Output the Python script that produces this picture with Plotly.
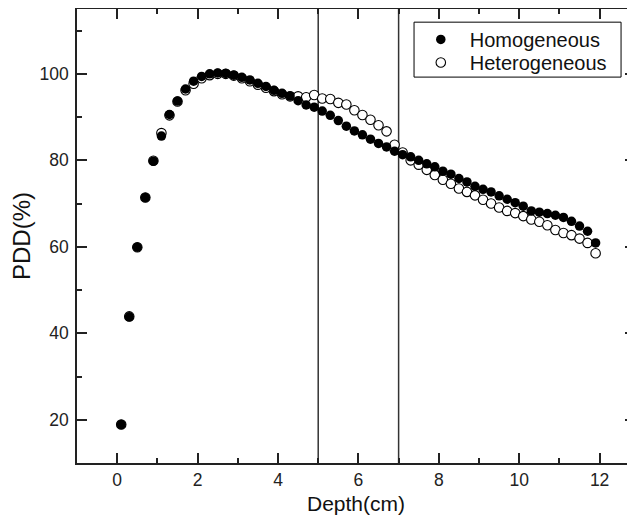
import plotly.graph_objects as go

depth = [round(0.1 + 0.2 * i, 1) for i in range(60)]

homogeneous = [
    18.9, 43.8, 59.9, 71.4, 79.8, 85.6, 90.6, 93.7, 96.5, 98.3,
    99.4, 100.0, 100.2, 100.1, 99.7, 99.2, 98.6, 97.8, 97.1, 96.2,
    95.5, 94.9, 93.8, 92.8, 92.3, 91.4, 90.4, 89.2, 87.9, 86.8,
    85.9, 84.9, 83.9, 83.1, 82.1, 81.3, 80.8, 80.0, 79.2, 78.5,
    77.5, 76.8, 75.8, 75.0, 74.0, 73.3, 72.7, 71.8, 71.0, 70.2,
    69.4, 68.3, 68.0, 67.7, 67.3, 66.8, 65.9, 64.8, 63.6, 60.9,
]

heterogeneous = [
    18.9, 43.9, 59.9, 71.4, 79.9, 86.3, 90.4, 93.6, 96.2, 97.7,
    99.0, 99.7, 100.0, 100.0, 99.6, 99.0, 98.3, 97.5, 96.8, 96.0,
    95.3, 94.8, 94.8, 94.6, 95.1, 94.3, 94.2, 93.3, 92.9, 91.6,
    90.5, 89.4, 88.1, 86.7, 83.6, 81.8, 80.0, 79.0, 77.8, 76.6,
    75.5, 74.6, 73.5, 72.7, 71.9, 70.9, 70.0, 69.1, 68.3, 67.8,
    67.1, 66.3, 65.8, 65.0, 63.9, 63.2, 62.7, 61.9, 60.9, 58.5,
]

boundaries = [5, 7]

x_ticks = [0, 2, 4, 6, 8, 10, 12]
y_ticks = [20, 40, 60, 80, 100]

FONT = "Liberation Sans, Arial, sans-serif"
AX = "#222222"

fig = go.Figure()

fig.add_trace(go.Scatter(
    x=depth, y=heterogeneous, mode="markers", name="Heterogeneous",
    legend="legend2",
    marker=dict(symbol="circle", size=9.5, color="white",
                line=dict(color="black", width=1.1)),
))
fig.add_trace(go.Scatter(
    x=depth, y=homogeneous, mode="markers", name="Homogeneous",
    legend="legend",
    marker=dict(symbol="circle", size=9.5, color="black",
                line=dict(color="black", width=0)),
))

for b in boundaries:
    fig.add_shape(type="line", x0=b, x1=b, y0=0, y1=1, xref="x", yref="paper",
                  line=dict(color="#333333", width=1.5), layer="below")

# legend frame
fig.add_shape(type="rect", xref="paper", yref="paper",
              x0=0.604, x1=0.975, y0=0.850, y1=0.971,
              line=dict(color="black", width=1), fillcolor="white", layer="above")

axis_common = dict(
    showline=True, linecolor=AX, linewidth=1.5, mirror="ticks",
    ticks="inside", ticklen=10, tickwidth=1.5, tickcolor=AX,
    showgrid=False, zeroline=False, automargin=False,
    tickfont=dict(family=FONT, size=17.5, color="#222222"),
)

fig.update_xaxes(
    range=[-1, 12.88], tickvals=x_ticks,
    minor=dict(dtick=1, ticks="inside", ticklen=5, tickwidth=1.5, tickcolor=AX, tick0=0),
    title=dict(text="Depth(cm)", font=dict(family=FONT, size=21, color="#111111"), standoff=8),
    **axis_common,
)
fig.update_yaxes(
    range=[10, 115], tickvals=y_ticks, ticklabelstandoff=3,
    minor=dict(dtick=10, ticks="inside", ticklen=5, tickwidth=1.5, tickcolor=AX, tick0=0),
    title=dict(text="PDD(%)", font=dict(family=FONT, size=24, color="#111111"), standoff=4),
    **axis_common,
)

legend_common = dict(
    xanchor="left", yanchor="top",
    bgcolor="rgba(0,0,0,0)", borderwidth=0,
    font=dict(family=FONT, size=20, color="#111111"),
    itemwidth=48,
)

fig.update_layout(
    width=635, height=520,
    margin=dict(l=69, r=8, t=1, b=65),
    paper_bgcolor="white", plot_bgcolor="white",
    showlegend=True,
    legend=dict(x=0.600, y=0.976, **legend_common),
    legend2=dict(x=0.600, y=0.925, **legend_common),
)

fig.write_html("out.html")
